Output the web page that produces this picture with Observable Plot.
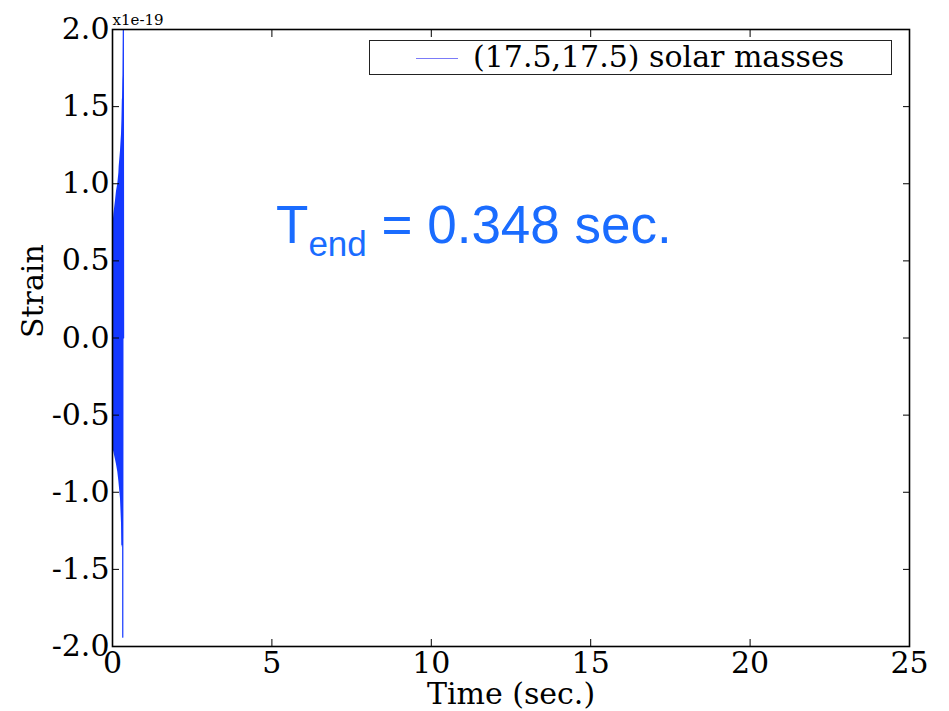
<!DOCTYPE html>
<html>
<head>
<meta charset="utf-8">
<script src="https://cdn.jsdelivr.net/npm/d3@7"></script>
<script src="https://cdn.jsdelivr.net/npm/@observablehq/plot@0.6"></script>
<style>
  html, body { margin: 0; padding: 0; background: white; }
  #wrap { position: relative; width: 949px; height: 711px; }
  #legend { position: absolute; left: 369px; top: 40px; width: 523px; height: 35px; border: 1px solid #222; background: white; box-sizing: border-box; }
  #legend .swatch { position: absolute; left: 46px; top: 17px; width: 42px; height: 0; border-top: 1.5px solid #7b7bf8; }
  #legend .lab { position: absolute; left: 103px; top: -3px; font-family: "DejaVu Serif", serif; font-size: 30px; line-height: 38px; white-space: nowrap; }
  #note { position: absolute; left: 276px; top: 195px; font-family: "Liberation Sans", Arial, sans-serif; font-size: 53px; color: #1a6cff; white-space: nowrap; line-height: 60px; }
  #note sub { font-size: 35px; vertical-align: -13px; }
</style>
</head>
<body>
<div id="wrap">
  <div id="chart"></div>
  <div id="legend"><div class="swatch"></div><div class="lab">(17.5,17.5) solar masses</div></div>
  <div id="note">T<sub>end</sub> = 0.348 sec.</div>
</div>
<script>
// Envelope of the chirp (time in sec., strain in units of 1e-19)
const envTime  = [0, 0.042, 0.094, 0.125, 0.167, 0.2, 0.209, 0.25, 0.27, 0.282, 0.3, 0.313, 0.334, 0.345];
const envUpper = [0.69, 0.80, 0.89, 0.95, 1.00, 1.07, 1.11, 1.21, 1.28, 1.32, 1.42, 1.54, 1.67, 1.70];
const envLower = [-0.70, -0.74, -0.79, -0.82, -0.87, -0.93, -0.95, -1.04, -1.14, -1.20, -1.34, -1.36, -1.30, -1.20];
// Final cycles near merger
const spikeTime   = [0.300, 0.312, 0.322, 0.330, 0.340, 0.348];
const spikeStrain = [-1.34, 1.55, -1.94, 1.70, 2.00, 0.0];

const xTicks = [0, 5, 10, 15, 20, 25];
const yTicks = [-2.0, -1.5, -1.0, -0.5, 0.0, 0.5, 1.0, 1.5, 2.0];

const env = envTime.map((t, i) => ({t, hi: envUpper[i], lo: envLower[i]}));
const spike = spikeTime.map((t, i) => ({t, s: spikeStrain[i]}));

const blue = "#1438ff";
const serif = "DejaVu Serif";

const chart = Plot.plot({
  width: 949,
  height: 711,
  marginLeft: 112,
  marginRight: 40,
  marginTop: 29,
  marginBottom: 65,
  x: {domain: [0, 25]},
  y: {domain: [-2, 2]},
  style: {fontFamily: serif, fontSize: "30px", color: "black", background: "white", overflow: "visible"},
  marks: [
    Plot.areaY(env, {x: "t", y1: "lo", y2: "hi", fill: blue}),
    Plot.line(spike, {x: "t", y: "s", stroke: blue, strokeWidth: 1.2}),
    Plot.axisX(xTicks, {anchor: "bottom", tickSize: 0, tickPadding: 5, tickFormat: d => String(d), label: null, fontSize: 30}),
    Plot.axisX(xTicks, {anchor: "bottom", tickSize: -7, text: null, label: null}),
    Plot.axisX(xTicks, {anchor: "top", tickSize: -7, text: null, label: null}),
    Plot.axisY(yTicks, {anchor: "left", tickSize: 0, tickPadding: 3, tickFormat: d => d.toFixed(1), label: null, fontSize: 30}),
    Plot.axisY(yTicks, {anchor: "left", tickSize: -7, text: null, label: null}),
    Plot.axisY(yTicks, {anchor: "right", tickSize: -7, text: null, label: null}),
    Plot.frame({stroke: "black", strokeWidth: 1.6}),
    Plot.text(["x1e-19"], {frameAnchor: "top-left", text: d => d, textAnchor: "start", lineAnchor: "bottom", dy: -5, fontSize: 15}),
    Plot.text(["Time (sec.)"], {frameAnchor: "bottom", text: d => d, dy: 57, fontSize: 30}),
    Plot.text(["Strain"], {frameAnchor: "left", text: d => d, rotate: -90, dx: -79, fontSize: 30})
  ]
});
document.getElementById("chart").appendChild(chart);
</script>
</body>
</html>
